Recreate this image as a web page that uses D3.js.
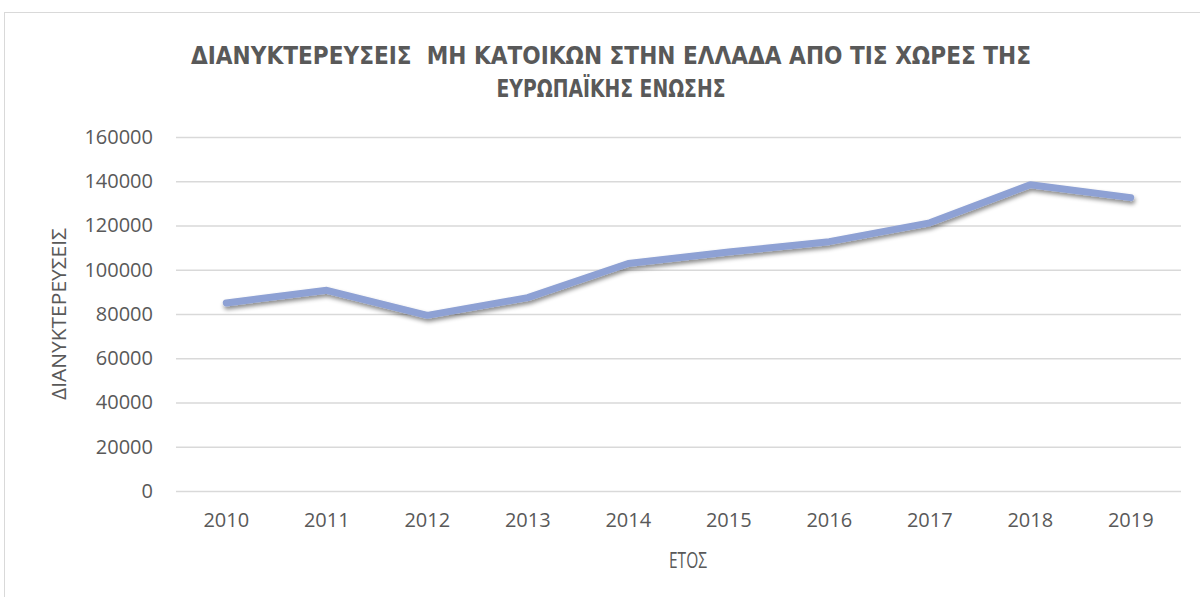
<!DOCTYPE html>
<html>
<head>
<meta charset="utf-8">
<script src="https://cdn.jsdelivr.net/npm/d3@7"></script>
<style>
  body { margin: 0; background: #fff; }
  text { font-family: 'Open Sans', 'Noto Sans', sans-serif; }
</style>
</head>
<body>
<div id="chart"></div>
<script>
// data
const years = ['2010', '2011', '2012', '2013', '2014', '2015', '2016', '2017', '2018', '2019']
const stays = [85000, 90700, 79400, 87400, 102800, 108000, 112700, 121200, 138400, 132600]
const yTicks = [0, 20000, 40000, 60000, 80000, 100000, 120000, 140000, 160000]
const titleLines = ['ΔΙΑΝΥΚΤΕΡΕΥΣΕΙΣ  ΜΗ ΚΑΤΟΙΚΩΝ ΣΤΗΝ ΕΛΛΑΔΑ ΑΠΟ ΤΙΣ ΧΩΡΕΣ ΤΗΣ', 'ΕΥΡΩΠΑΪΚΗΣ ΕΝΩΣΗΣ']
const titleWidths = [840, 229]

const W = 1200
const H = 597
const margin = { left: 176, right: 19, top: 137, bottom: 106 }

const svg = d3.select('#chart').append('svg').attr('width', W).attr('height', H)

// outer border of the chart area
svg.append('rect')
  .attr('x', 4.5).attr('y', 12.5)
  .attr('width', W).attr('height', H)
  .attr('fill', 'none').attr('stroke', '#d9d9d9')

// drop shadow for the line
const defs = svg.append('defs')
const f = defs.append('filter').attr('id', 'shadow')
  .attr('x', '-5%').attr('y', '-20%').attr('width', '110%').attr('height', '150%')
f.append('feDropShadow')
  .attr('dx', 1).attr('dy', 3).attr('stdDeviation', 2.2)
  .attr('flood-color', '#000').attr('flood-opacity', 0.45)

const x = d3.scaleBand().domain(years).range([margin.left, W - margin.right])
const y = d3.scaleLinear().domain([0, 160000]).range([H - margin.bottom, margin.top])

// y axis + gridlines
const yAxis = svg.append('g')
  .attr('transform', `translate(${margin.left},0)`)
  .call(d3.axisLeft(y).tickValues(yTicks).tickSize(-(W - margin.right - margin.left)).tickPadding(23).tickFormat(d3.format('d')))
yAxis.select('.domain').remove()
yAxis.selectAll('line').attr('stroke', '#d9d9d9').attr('stroke-width', 1.3)
yAxis.selectAll('text').attr('fill', '#595959').style('font-size', '20px')

// x axis labels
const xAxis = svg.append('g')
  .attr('transform', `translate(0,${H - margin.bottom})`)
  .call(d3.axisBottom(x).tickSize(0).tickPadding(22))
xAxis.select('.domain').remove()
xAxis.selectAll('text').attr('fill', '#595959').style('font-size', '20px')

// line
const line = d3.line()
  .x((d, i) => x(years[i]) + x.bandwidth() / 2)
  .y(d => y(d))

svg.append('path')
  .datum(stays)
  .attr('d', line)
  .attr('fill', 'none')
  .attr('stroke', '#8ea1d4')
  .attr('stroke-width', 7)
  .attr('stroke-linecap', 'round')
  .attr('stroke-linejoin', 'round')
  .attr('filter', 'url(#shadow)')

// title
svg.append('g').selectAll('text')
  .data(titleLines)
  .join('text')
  .attr('x', 611)
  .attr('y', (d, i) => 64 + i * 33)
  .attr('text-anchor', 'middle')
  .attr('textLength', (d, i) => titleWidths[i])
  .attr('lengthAdjust', 'spacingAndGlyphs')
  .attr('fill', '#595959')
  .style('white-space', 'pre')
  .style('font-family', "'DejaVu Sans Condensed', 'DejaVu Sans', sans-serif")
  .style('font-weight', 'bold')
  .style('font-size', '25px')
  .text(d => d)

// axis titles
svg.append('text')
  .attr('transform', `translate(66,314)rotate(-90)`)
  .attr('text-anchor', 'middle')
  .attr('textLength', 172)
  .attr('lengthAdjust', 'spacingAndGlyphs')
  .attr('fill', '#595959')
  .style('font-size', '20px')
  .text('ΔΙΑΝΥΚΤΕΡΕΥΣΕΙΣ')

svg.append('text')
  .attr('x', 688)
  .attr('y', 568)
  .attr('text-anchor', 'middle')
  .attr('textLength', 38)
  .attr('lengthAdjust', 'spacingAndGlyphs')
  .attr('fill', '#595959')
  .style('font-size', '21px')
  .text('ΕΤΟΣ')
</script>
</body>
</html>
